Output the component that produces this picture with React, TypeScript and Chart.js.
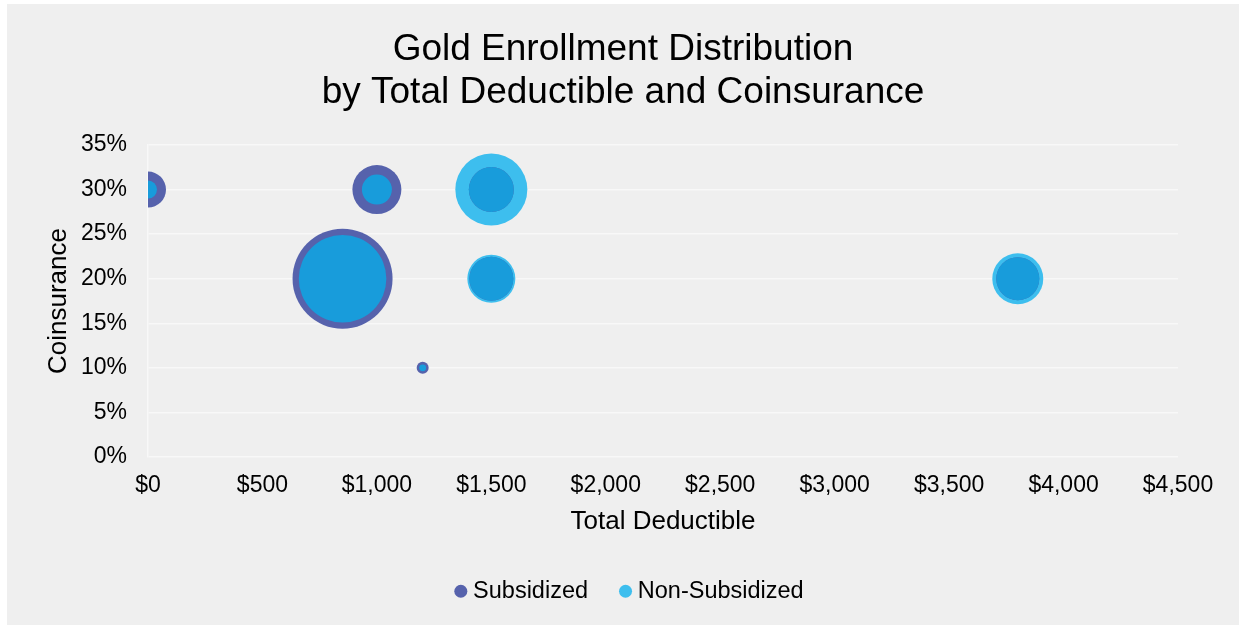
import React, { useEffect, useRef } from "react";
import { Chart, registerables } from "chart.js";

Chart.register(...registerables);

// Data
const deductibles = [0, 1000, 850, 1200, 1500, 1500, 3800];
const coinsurance = [30, 30, 20, 10, 30, 20, 20];
const subsidizedEnrollment = [324, 600, 2500, 36, 506, 484, 462];
const nonSubsidizedEnrollment = [81, 225, 1918, 12, 1296, 576, 650];
const seriesNames = ["Subsidized", "Non-Subsidized"];
const titleLines = ["Gold Enrollment Distribution", "by Total Deductible and Coinsurance"];
const xTitle = "Total Deductible";
const yTitle = "Coinsurance";

const SUB_COLOR = "#5662AC";
const NON_COLOR = "#3DBEEE";
const OVERLAP_COLOR = "#189CDB";
const FONT = "'Liberation Sans', Arial, sans-serif";
const MAX_R = 50;

const maxEnroll = Math.max(...subsidizedEnrollment, ...nonSubsidizedEnrollment);
const toR = (v: number) => MAX_R * Math.sqrt(v / maxEnroll);

const overlapPlugin = {
  id: "overlap",
  afterLayout(chart: any) {
    const l = chart.legend;
    if (l) {
      l.left += 9;
      l.right += 9;
    }
  },
  afterDatasetsDraw(chart: any) {
    const m0 = chart.getDatasetMeta(0);
    const m1 = chart.getDatasetMeta(1);
    if (!m0 || !m1) return;
    const { ctx, chartArea } = chart;
    ctx.save();
    ctx.beginPath();
    ctx.rect(chartArea.left, chartArea.top, chartArea.right - chartArea.left, chartArea.bottom - chartArea.top);
    ctx.clip();
    ctx.fillStyle = OVERLAP_COLOR;
    m0.data.forEach((el: any, i: number) => {
      const el1 = m1.data[i];
      if (!el1) return;
      const r = Math.min(el.options.radius, el1.options.radius);
      ctx.beginPath();
      ctx.arc(el.x, el.y, r, 0, Math.PI * 2);
      ctx.fill();
    });
    ctx.restore();
  },
};

export default function App() {
  const ref = useRef<HTMLCanvasElement | null>(null);

  useEffect(() => {
    if (!ref.current) return;
    const mk = (vals: number[]) =>
      deductibles.map((x, i) => ({ x, y: coinsurance[i], r: toR(vals[i]) }));
    const chart = new Chart(ref.current, {
      type: "bubble",
      data: {
        datasets: [
          {
            label: seriesNames[0],
            data: mk(subsidizedEnrollment),
            backgroundColor: SUB_COLOR,
            borderWidth: 0,
            clip: 0,
          } as any,
          {
            label: seriesNames[1],
            data: mk(nonSubsidizedEnrollment),
            backgroundColor: NON_COLOR,
            borderWidth: 0,
            clip: 0,
          } as any,
        ],
      },
      plugins: [overlapPlugin],
      options: {
        animation: false,
        responsive: true,
        maintainAspectRatio: false,
        events: [],
        layout: { padding: { left: 0, right: 0, top: 0, bottom: 12 } },
        plugins: {
          tooltip: { enabled: false },
          title: {
            display: true,
            text: titleLines,
            color: "#000",
            font: { family: FONT, size: 37, weight: "normal", lineHeight: 1.162 },
            padding: { top: 24.5, bottom: 30.5 },
          },
          legend: {
            display: true,
            position: "bottom",
            labels: {
              usePointStyle: true,
              pointStyle: "circle",
              boxWidth: 1,
              boxHeight: 9.2,
              padding: 37,
              color: "#000",
              font: { family: FONT, size: 23.5 },
            },
          },
        },
        scales: {
          x: {
            type: "linear",
            min: 0,
            max: 4500,
            ticks: {
              stepSize: 500,
              color: "#000",
              padding: 15,
              font: { family: FONT, size: 23 },
              callback: (v: any) => "$" + Number(v).toLocaleString("en-US"),
            },
            grid: { display: false, drawTicks: false },
            border: { display: false },
            title: {
              display: true,
              text: xTitle,
              color: "#000",
              font: { family: FONT, size: 26 },
              padding: { top: 0, bottom: 5 },
            },
            afterFit: (s: any) => {
              s.height = 85.5;
            },
          },
          y: {
            type: "linear",
            min: 0,
            max: 35,
            ticks: {
              stepSize: 5,
              color: "#000",
              padding: 21,
              font: { family: FONT, size: 23 },
              callback: (v: any) => v + "%",
            },
            grid: { color: "#F8F8F8", lineWidth: 1.5, drawTicks: false },
            border: { display: true, color: "#F8F8F8", width: 1.5 },
            title: {
              display: true,
              text: yTitle,
              color: "#000",
              font: { family: FONT, size: 26 },
              padding: { top: 36.4, bottom: 0 },
            },
            afterFit: (s: any) => {
              s.width = 141;
            },
          },
          yRight: {
            type: "linear",
            position: "right",
            display: true,
            ticks: { display: false },
            grid: { display: false, drawTicks: false },
            border: { display: false },
            afterFit: (s: any) => {
              s.width = 61;
            },
          },
        },
      },
    });
    return () => chart.destroy();
  }, []);

  return (
    <div
      style={{
        position: "fixed",
        left: 7,
        top: 4,
        width: 1232,
        height: 621,
        background: "#EFEFEF",
      }}
    >
      <canvas ref={ref} />
    </div>
  );
}
